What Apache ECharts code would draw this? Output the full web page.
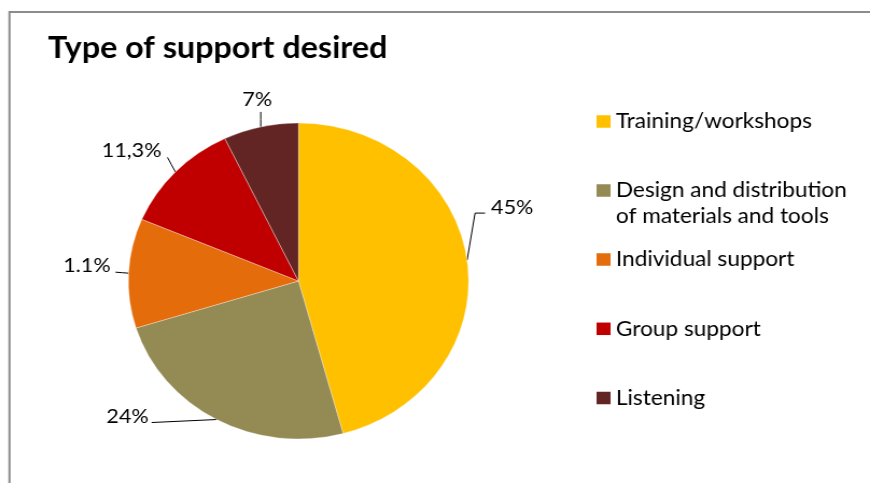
<!DOCTYPE html>
<html>
<head>
<meta charset="utf-8">
<script src="https://cdn.jsdelivr.net/npm/echarts@6/dist/echarts.min.js"></script>
<style>
  html, body { margin: 0; padding: 0; background: #fff; overflow: hidden; }
  /* the chart is laid out a little narrower and widened to the page */
  #chart { width: 808px; height: 483px; transform: scaleX(1.07673); transform-origin: 0 0; }
</style>
</head>
<body>
<div id="chart"></div>
<script>
// Share of respondents per type of support
const categories = [
  'Training/workshops',
  'Design and distribution of materials and tools',
  'Individual support',
  'Group support',
  'Listening'
];
const shares = [45, 24, 11, 11.3, 7];
const shareLabels = ['45%', '24%', '1.1%', '11,3%', '7%'];
const sliceColors = ['#FFC000', '#948A54', '#E46C0A', '#C00000', '#632523'];

const FONT = 'Lato, "Open Sans", sans-serif';

// Leader lines, relative to the point where each slice's mid-angle meets the rim
const leaders = [
  { elbow: [7.4, -47],   end: [16.7, -47],   text: [22.3, -53],   align: 'left' },
  { elbow: [-30.2, 1.5], end: [-60.4, 3],    text: [-63.2, -2.5], align: 'right' },
  { elbow: [-6, -0.5],   end: [-12.1, -1],   text: [-16.7, -7.5], align: 'right' },
  { elbow: [-3.7, -7.2], end: [-7.4, -14.5], text: [-13, -21],    align: 'right' },
  { elbow: [0, -7.5],    end: [0, -15],      text: [-3.3, -27],   align: 'center' }
];

// Vertical centre of each legend marker
const legendRows = [121.5, 190.5, 259.5, 328.8, 398];
const LINE_H = 25.5;

// The long entry wraps onto a second line; a leading empty line keeps the
// first text line level with the marker.
function legendText(name) {
  return name.indexOf(' of materials') > 0
    ? '\n' + name.replace(' of materials', '\nof materials')
    : name;
}

const legends = categories.map(function (name, i) {
  const lines = legendText(name).split('\n').length;
  return {
    data: [name],
    left: 554,
    top: legendRows[i] - (lines / 2) * LINE_H,
    orient: 'vertical',
    padding: 0,
    icon: 'rect',
    itemWidth: 13,
    itemHeight: 12.5,
    itemStyle: { borderWidth: 0 },
    selectedMode: false,
    formatter: legendText,
    textStyle: {
      fontFamily: FONT,
      fontSize: 21,
      color: '#000',
      lineHeight: LINE_H
    }
  };
});

const chart = echarts.init(document.getElementById('chart'), null, { renderer: 'canvas' });

chart.setOption({
  animation: false,
  backgroundColor: '#fff',
  title: {
    text: 'Type of support desired',
    left: 44.6,
    top: 33.5,
    padding: 0,
    textStyle: {
      fontFamily: FONT,
      fontWeight: 'bold',
      fontSize: 30,
      lineHeight: 30,
      color: '#000'
    }
  },
  graphic: [{
    type: 'rect',
    silent: true,
    shape: { x: 8.8, y: 12, width: 900, height: 600 },
    style: { fill: 'none', stroke: '#8c8c8c', lineWidth: 2 }
  }],
  legend: legends,
  series: [{
    type: 'pie',
    center: [277.2, 281],
    radius: 158,
    startAngle: 90,
    clockwise: true,
    avoidLabelOverlap: false,
    data: categories.map(function (name, i) {
      return { name: name, value: shares[i], itemStyle: { color: sliceColors[i] } };
    }),
    itemStyle: { borderColor: 'rgba(255,255,255,0.55)', borderWidth: 0.6 },
    label: {
      show: true,
      position: 'outside',
      formatter: function (p) { return shareLabels[p.dataIndex]; },
      fontFamily: FONT,
      fontSize: 20,
      color: '#000'
    },
    labelLine: {
      show: true,
      length: 10,
      length2: 10,
      lineStyle: { color: '#000', width: 1 }
    },
    emphasis: { disabled: true },
    labelLayout: function (params) {
      const g = leaders[params.dataIndex];
      const a = params.labelLinePoints[0];
      return {
        x: a[0] + g.text[0],
        y: a[1] + g.text[1],
        align: g.align,
        verticalAlign: 'middle',
        labelLinePoints: [
          [a[0], a[1]],
          [a[0] + g.elbow[0], a[1] + g.elbow[1]],
          [a[0] + g.end[0], a[1] + g.end[1]]
        ]
      };
    }
  }]
});
</script>
</body>
</html>
